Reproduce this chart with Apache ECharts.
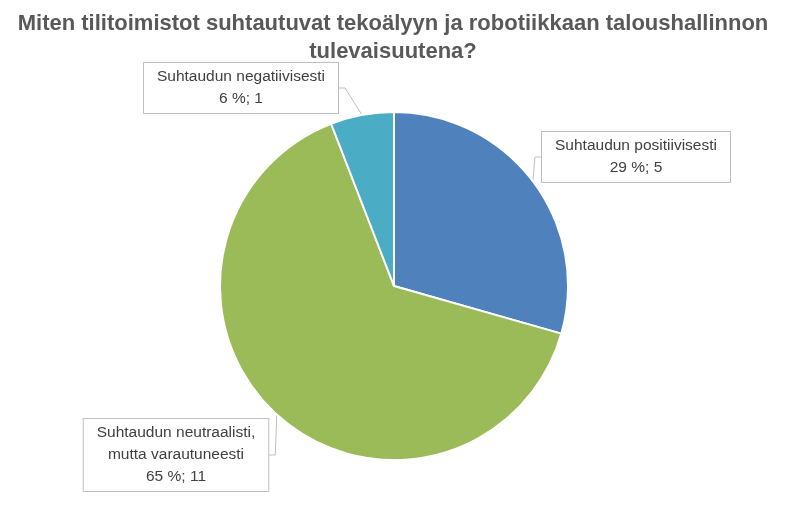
<!DOCTYPE html>
<html>
<head>
<meta charset="utf-8">
<script src="https://cdn.jsdelivr.net/npm/echarts@6/dist/echarts.min.js"></script>
<style>
  html, body { margin: 0; padding: 0; background: #fff; }
  #main { width: 786px; height: 507px; }
</style>
</head>
<body>
<div id="main"></div>
<script>
var categories = ['Suhtaudun positiivisesti', 'Suhtaudun neutraalisti,\nmutta varautuneesti', 'Suhtaudun negatiivisesti'];
var values = [5, 11, 1];
var colors = ['#4F81BD', '#9BBB59', '#4BACC6'];

// label box centres (px), same order as categories
var labelPos = [[636, 157], [176, 455], [241, 88]];

var chart = echarts.init(document.getElementById('main'));
chart.setOption({
    animation: false,
    title: {
        text: 'Miten tilitoimistot suhtautuvat tekoälyyn ja robotiikkaan taloushallinnon\ntulevaisuutena?',
        left: 'center',
        top: 5,
        textStyle: {
            fontFamily: '"Liberation Sans Narrow", sans-serif',
            fontWeight: 'bold',
            fontSize: 22,
            lineHeight: 28,
            color: '#595959'
        }
    },
    series: [{
        type: 'pie',
        center: [394, 286],
        radius: 174,
        startAngle: 90,
        clockwise: true,
        percentPrecision: 0,
        itemStyle: { borderColor: '#fff', borderWidth: 2 },
        label: {
            show: true,
            formatter: '{b}\n{d} %; {c}',
            fontFamily: '"Liberation Sans", Arial, sans-serif',
            fontSize: 15.5,
            lineHeight: 22,
            color: '#404040',
            align: 'center',
            backgroundColor: '#fff',
            borderColor: '#bfbfbf',
            borderWidth: 1,
            padding: [3, 13, 3, 13]
        },
        labelLine: {
            show: true,
            length: 8,
            length2: 6,
            lineStyle: { color: '#bfbfbf', width: 1 }
        },
        labelLayout: function (params) {
            var p = labelPos[params.dataIndex];
            return { x: p[0], y: p[1], align: 'center', verticalAlign: 'middle' };
        },
        data: categories.map(function (c, i) {
            return { name: c, value: values[i], itemStyle: { color: colors[i] } };
        })
    }]
});
</script>
</body>
</html>
